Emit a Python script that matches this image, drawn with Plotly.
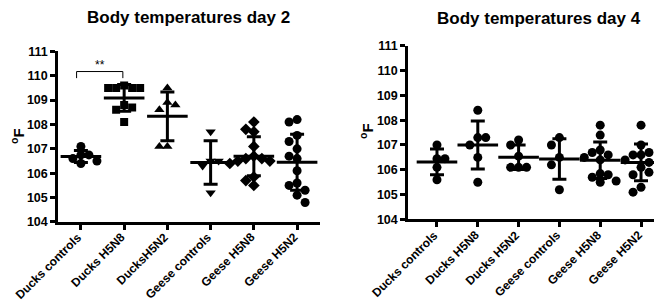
import numpy as np
import plotly.graph_objects as go

# ---------------- data ----------------
categories_day2 = ["Ducks controls", "Ducks H5N8", "DucksH5N2",
                   "Geese controls", "Geese H5N8", "Geese H5N2"]
categories_day4 = ["Ducks controls", "Ducks H5N8", "Ducks H5N2",
                   "Geese controls", "Geese H5N8", "Geese H5N2"]

d2_ducks_controls = [107.1, 106.75, 106.6, 106.5, 106.4, 106.75]
d2_ducks_h5n8 = [109.5, 109.5, 109.5, 109.6, 109.5, 108.8, 108.7, 108.6, 108.1]
d2_ducks_h5n2 = [109.5, 108.9, 108.8, 108.6, 107.1, 107.1]
d2_geese_controls = [107.7, 106.5, 106.5, 106.3, 105.2]
d2_geese_h5n8 = [108.1, 107.8, 107.7, 107.1, 106.7, 106.6, 106.6, 106.5,
                 106.5, 106.4, 105.85, 105.7, 105.5]
d2_geese_h5n2 = [108.2, 108.1, 107.55, 107.3, 107.0, 106.7, 106.6, 106.1,
                 105.6, 105.5, 105.3, 105.1, 104.8]

d4_ducks_controls = [107.0, 106.45, 106.45, 106.1, 105.6]
d4_ducks_h5n8 = [108.4, 107.3, 107.3, 107.0, 106.5, 105.5]
d4_ducks_h5n2 = [107.2, 107.0, 106.55, 106.1, 106.1, 106.1]
d4_geese_controls = [107.3, 107.0, 106.5, 106.2, 105.2]
d4_geese_h5n8 = [107.8, 107.4, 106.8, 106.7, 106.6, 106.5, 106.4, 105.85,
                 105.8, 105.7, 105.55, 105.5]
d4_geese_h5n2 = [107.8, 107.0, 106.7, 106.6, 106.6, 106.4, 106.3, 106.1,
                 105.9, 105.8, 105.3, 105.1]

day2_groups = [d2_ducks_controls, d2_ducks_h5n8, d2_ducks_h5n2,
               d2_geese_controls, d2_geese_h5n8, d2_geese_h5n2]
day4_groups = [d4_ducks_controls, d4_ducks_h5n8, d4_ducks_h5n2,
               d4_geese_controls, d4_geese_h5n8, d4_geese_h5n2]

y_ticks = [104, 105, 106, 107, 108, 109, 110, 111]

# ---------------- styles ----------------
day2_symbols = ["circle", "square", "triangle-up", "triangle-down", "diamond", "circle"]
day4_symbols = ["circle"] * 6
day2_sizes = [9, 8, 9, 9, 9, 9]
day4_sizes = [9] * 6
FONT = "Liberation Sans, Arial, sans-serif"


def swarm_offsets(vals, px_x, px_y, diam):
    """Simple beeswarm: returns x offsets (in category units) so markers don't overlap."""
    vals = np.asarray(vals, dtype=float)
    order = np.argsort(-vals, kind="stable")
    step = diam / px_x
    placed = []
    offs = np.zeros(len(vals))
    for n, i in enumerate(order):
        cands = [0]
        for k in range(1, 8):
            cands += ([k, -k] if n % 2 == 0 else [-k, k])
        for k in cands:
            ox = k * step
            ok = True
            for (px, pv) in placed:
                dx = (ox - px) * px_x
                dy = (vals[i] - pv) * px_y
                if dx * dx + dy * dy < (diam * 0.95) ** 2:
                    ok = False
                    break
            if ok:
                offs[i] = ox
                placed.append((ox, vals[i]))
                break
    return offs


fig = go.Figure()


def add_panel(groups, symbols, sizes, xa, ya, px_x, px_y, labels):
    for i, g in enumerate(groups):
        offs = swarm_offsets(g, px_x, px_y, 8)
        fig.add_trace(go.Scatter(
            x=i + offs, y=g, mode="markers", xaxis=xa, yaxis=ya,
            marker=dict(symbol=symbols[i], size=sizes[i], color="black",
                        line=dict(width=0)),
            showlegend=False, hoverinfo="y"))
    for i, g in enumerate(groups):
        m = float(np.mean(g))
        s = float(np.std(g, ddof=1))
        fig.add_trace(go.Scatter(
            x=[i], y=[m], mode="markers", xaxis=xa, yaxis=ya,
            marker=dict(symbol="line-ew", size=29, color="black",
                        line=dict(width=3, color="black")),
            error_y=dict(type="data", array=[s], visible=True,
                         color="black", thickness=3, width=7),
            showlegend=False, hoverinfo="y"))
    # rotated category labels anchored at their ticks
    yd = ya + " domain"
    for i, lab in enumerate(labels):
        fig.add_annotation(x=i, y=0, xref=xa, yref=yd, text="<b>" + lab + "</b>",
                           showarrow=False, textangle=-45,
                           xanchor="right", yanchor="top", xshift=5, yshift=-7,
                           borderpad=0,
                           font=dict(family=FONT, size=12, color="black"))


add_panel(day2_groups, day2_symbols, day2_sizes, "x", "y", 43.2, 24.6, categories_day2)
add_panel(day4_groups, day4_symbols, day4_sizes, "x2", "y2", 41.0, 24.7, categories_day4)

# significance bracket (day 2)
fig.add_shape(type="path", xref="x", yref="y",
              path="M -0.1,109.9 L -0.1,110.17 L 0.97,110.17 L 0.97,109.9",
              line=dict(color="black", width=1))
fig.add_annotation(x=0.44, y=110.45, xref="x", yref="y", text="**",
                   showarrow=False, font=dict(family=FONT, size=12, color="black"))

xaxis_common = dict(tickmode="array", tickvals=list(range(6)), showticklabels=False,
                    showline=True, linecolor="black", linewidth=2.5,
                    ticks="outside", ticklen=5, tickwidth=2.5, tickcolor="black",
                    showgrid=False, zeroline=False, automargin=False)
yaxis_common = dict(range=[104, 111], tickvals=y_ticks,
                    showline=True, linecolor="black", linewidth=2.5,
                    ticks="outside", ticklen=5, tickwidth=2.5, tickcolor="black",
                    showgrid=False, zeroline=False, automargin=False,
                    tickfont=dict(family=FONT, size=12.5, color="black", weight="bold"))

fig.update_layout(
    width=662, height=302,
    margin=dict(l=0, r=0, t=0, b=0),
    paper_bgcolor="white", plot_bgcolor="white",
    xaxis=dict(xaxis_common, domain=[50 / 662, 312 / 662], range=[-0.53, 5.53],
               anchor="y"),
    yaxis=dict(yaxis_common, domain=[0.2914, 0.8566], anchor="x"),
    xaxis2=dict(xaxis_common, domain=[400 / 662, 1.0], range=[-0.71, 5.71],
                anchor="y2"),
    yaxis2=dict(yaxis_common, domain=[0.2997, 0.8752], anchor="x2"),
)

# titles
fig.add_annotation(x=180.5 / 662, y=(302 - 9.5) / 302, xref="paper", yref="paper",
                   text="<b>Body temperatures day 2</b>", showarrow=False,
                   xanchor="center", yanchor="middle",
                   font=dict(family=FONT, size=17, color="black"))
fig.add_annotation(x=530.6 / 662, y=(302 - 11) / 302, xref="paper", yref="paper",
                   text="<b>Body temperatures day 4</b>", showarrow=False,
                   xanchor="center", yanchor="middle",
                   font=dict(family=FONT, size=17, color="black"))
# y-axis titles
fig.add_annotation(x=9 / 662, y=(302 - 128) / 302, xref="paper", yref="paper",
                   text="<b><sup>o</sup>F</b>", showarrow=False, textangle=-90,
                   xanchor="center", yanchor="middle",
                   font=dict(family=FONT, size=15, color="black"))
fig.add_annotation(x=358.5 / 662, y=(302 - 123.5) / 302, xref="paper", yref="paper",
                   text="<b><sup>o</sup>F</b>", showarrow=False, textangle=-90,
                   xanchor="center", yanchor="middle",
                   font=dict(family=FONT, size=15, color="black"))

fig.write_html("out.html")
